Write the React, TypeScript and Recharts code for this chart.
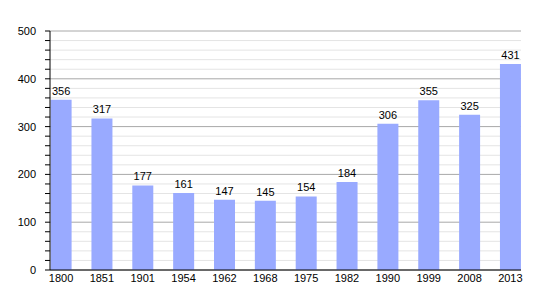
import { BarChart, Bar, XAxis, YAxis, CartesianGrid, LabelList } from "recharts";

const years = ["1800", "1851", "1901", "1954", "1962", "1968", "1975", "1982", "1990", "1999", "2008", "2013"];
const population = [356, 317, 177, 161, 147, 145, 154, 184, 306, 355, 325, 431];
const majorTicks = [0, 100, 200, 300, 400, 500];
const minorTicks = [20, 40, 60, 80, 120, 140, 160, 180, 220, 240, 260, 280, 320, 340, 360, 380, 420, 440, 460, 480];
const allTicks = [...majorTicks, ...minorTicks].sort((a, b) => a - b);

const chartData = years.map((year, i) => ({ year, value: population[i] }));

const font = "'Liberation Sans', Arial, sans-serif";

export default function App() {
  return (
    <div style={{ position: "absolute", left: 0, top: 0, fontFamily: font }}>
      <BarChart
        width={550}
        height={300}
        data={chartData}
        margin={{ top: 31, right: 29, bottom: 0, left: 0 }}
      >
        <CartesianGrid vertical={false} horizontalValues={minorTicks} stroke="#e4e4e4" />
        <CartesianGrid vertical={false} horizontalValues={majorTicks} stroke="#a8a8a8" />
        <XAxis
          dataKey="year"
          height={30}
          padding={{ left: -9.4, right: -9.8 }}
          tickLine={false}
          tickSize={0}
          tickMargin={4}
          axisLine={{ stroke: "#000" }}
          tick={{ fill: "#000", fontSize: 11, fontFamily: font }}
          interval={0}
        />
        <YAxis
          width={50}
          domain={[0, 500]}
          ticks={allTicks}
          interval={0}
          tickSize={5}
          tickMargin={9}
          axisLine={{ stroke: "#000" }}
          tickLine={{ stroke: "#000" }}
          tickFormatter={(v: number) => (v % 100 === 0 ? String(v) : "")}
          tick={{ fill: "#000", fontSize: 11, fontFamily: font }}
        />
        <Bar dataKey="value" fill="#99aaff" barSize={21} isAnimationActive={false}>
          <LabelList dataKey="value" position="top" offset={5} fill="#000" fontSize={11} fontFamily={font} />
        </Bar>
      </BarChart>
    </div>
  );
}
